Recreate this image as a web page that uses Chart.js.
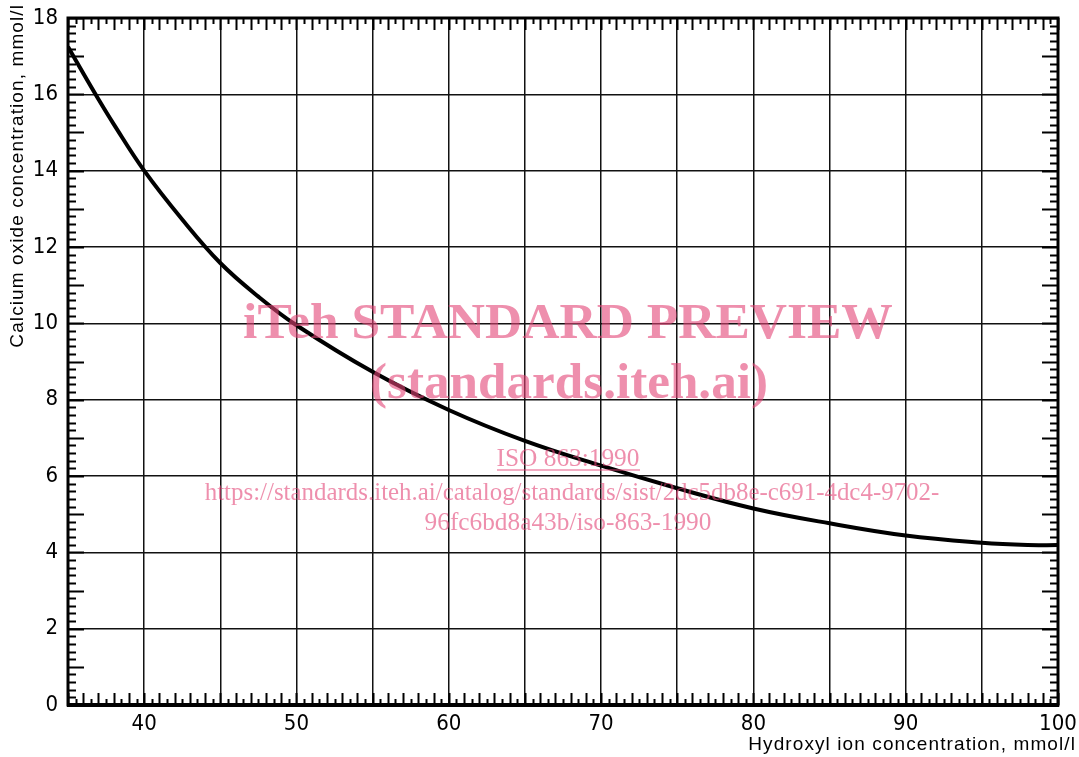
<!DOCTYPE html>
<html>
<head>
<meta charset="utf-8">
<script src="https://cdn.jsdelivr.net/npm/chart.js@4.4.1/dist/chart.umd.min.js"></script>
<style>
  html, body { margin: 0; padding: 0; background: #fff; }
  #wrap { width: 1079px; height: 757px; }
</style>
</head>
<body>
<div id="wrap"><canvas id="grafico" width="1079" height="757"></canvas></div>
<script>
// ======= DADOS =======
const hidroxila = [35, 36, 37, 38, 40, 42.5, 45, 47.5, 50, 55, 60, 65, 70, 75, 80, 85, 90, 95, 98, 100];
const oxidoCalcio = [17.25, 16.55, 15.87, 15.22, 14.0, 12.72, 11.58, 10.7, 9.95, 8.73, 7.73, 6.92, 6.27, 5.68, 5.15, 4.76, 4.44, 4.25, 4.19, 4.19];

const rotulosX = [40, 50, 60, 70, 80, 90, 100];
const rotulosY = [0, 2, 4, 6, 8, 10, 12, 14, 16, 18];

const tituloX = "Hydroxyl ion concentration, mmol/l";
const tituloY = "Calcium oxide concentration, mmol/l";

const marcaDagua = [
  "iTeh STANDARD PREVIEW",
  "(standards.iteh.ai)",
  "ISO 863:1990",
  "https://standards.iteh.ai/catalog/standards/sist/2dc5db8e-c691-4dc4-9702-",
  "96fc6bd8a43b/iso-863-1990",
];

const fonteNum = "'DejaVu Sans Condensed', 'Liberation Sans Narrow', 'DejaVu Sans', sans-serif";

// ======= PLUGIN: escalas menores, moldura, títulos, marca d'água =======
function textoAjustado(ctx, texto, cx, cy, largura, peso, familia) {
  ctx.font = `${peso} 40px ${familia}`;
  const w = ctx.measureText(texto).width;
  const tam = 40 * largura / w;
  ctx.font = `${peso} ${tam}px ${familia}`;
  ctx.fillText(texto, cx, cy);
  return tam;
}

const moldura = {
  id: "moldura",
  afterDraw(chart) {
    const { ctx, chartArea: a, scales } = chart;
    const sx = scales.x, sy = scales.y;
    ctx.save();
    ctx.strokeStyle = "#000";
    ctx.lineWidth = 2;

    // marcas no eixo x: a cada 0,5, maiores nos inteiros
    for (let i = sx.min * 2; i <= sx.max * 2; i++) {
      const v = i / 2;
      const px = Math.round(sx.getPixelForValue(v)) + 0.5;
      const len = Number.isInteger(v) ? 12 : 6;
      ctx.beginPath();
      ctx.moveTo(px, a.bottom); ctx.lineTo(px, a.bottom - len);
      ctx.moveTo(px, a.top); ctx.lineTo(px, a.top + len);
      ctx.stroke();
    }
    // marcas no eixo y: a cada 0,2, maiores nos inteiros
    for (let i = sy.min * 5; i <= sy.max * 5; i++) {
      const py = Math.round(sy.getPixelForValue(i / 5)) + 0.5;
      const len = i % 5 === 0 ? 16 : 8;
      ctx.beginPath();
      ctx.moveTo(a.left, py); ctx.lineTo(a.left + len, py);
      ctx.moveTo(a.right, py); ctx.lineTo(a.right - len, py);
      ctx.stroke();
    }

    // moldura
    ctx.lineWidth = 3;
    ctx.strokeRect(a.left, a.top, a.right - a.left, a.bottom - a.top);
    ctx.lineWidth = 4;
    ctx.beginPath();
    ctx.moveTo(a.left - 1, a.bottom); ctx.lineTo(a.right + 1, a.bottom);
    ctx.stroke();

    // títulos dos eixos
    ctx.fillStyle = "#000";
    ctx.font = "19px 'Liberation Sans', Arial, sans-serif";
    ctx.letterSpacing = "1.1px";
    ctx.textAlign = "right";
    ctx.textBaseline = "middle";
    ctx.fillText(tituloX, 1076, 745);
    ctx.save();
    ctx.translate(18, 4);
    ctx.rotate(-Math.PI / 2);
    ctx.fillText(tituloY, 0, 0);
    ctx.restore();
    ctx.letterSpacing = "0px";

    // marca d'água
    ctx.globalAlpha = 0.6;
    ctx.fillStyle = "rgb(227, 68, 118)";
    ctx.strokeStyle = "rgb(227, 68, 118)";
    ctx.textAlign = "center";
    ctx.textBaseline = "alphabetic";
    const serif = "'Liberation Serif', 'Times New Roman', serif";
    textoAjustado(ctx, marcaDagua[0], 568, 338, 650, "bold", serif);
    textoAjustado(ctx, marcaDagua[1], 569, 398, 398, "bold", serif);
    textoAjustado(ctx, marcaDagua[2], 568, 466, 143, "normal", serif);
    ctx.lineWidth = 1.5;
    ctx.beginPath();
    ctx.moveTo(497, 470); ctx.lineTo(640, 470);
    ctx.stroke();
    textoAjustado(ctx, marcaDagua[3], 572, 500, 735, "normal", serif);
    textoAjustado(ctx, marcaDagua[4], 568, 530, 287, "normal", serif);
    ctx.restore();
  },
};

// ======= GRÁFICO =======
const ctxGrafico = document.getElementById("grafico").getContext("2d");

const grafico = new Chart(ctxGrafico, {
  type: "line",
  data: {
    datasets: [
      {
        label: tituloY,
        data: hidroxila.map((x, i) => ({ x, y: oxidoCalcio[i] })),
        borderColor: "#000",
        borderWidth: 4,
        pointRadius: 0,
        fill: false,
        tension: 0.4,
      },
    ],
  },
  options: {
    responsive: false,
    animation: false,
    devicePixelRatio: 1,
    layout: { padding: { top: 18, right: 21, left: 0, bottom: 0 } },
    plugins: { legend: { display: false }, tooltip: { enabled: false } },
    scales: {
      x: {
        type: "linear",
        min: 35,
        max: 100,
        afterFit: (s) => { s.height = 52; s.paddingLeft = 0; s.paddingRight = 0; },
        ticks: {
          stepSize: 5,
          autoSkip: false,
          maxRotation: 0,
          padding: 6,
          color: "#000",
          font: { family: fonteNum, size: 22 },
          callback: (v) => (rotulosX.includes(v) ? String(v) : ""),
        },
        grid: { color: "#111", lineWidth: 1.5, drawTicks: false },
        border: { display: false },
      },
      y: {
        min: 0,
        max: 18,
        afterFit: (s) => { s.width = 68; s.paddingTop = 0; s.paddingBottom = 0; },
        ticks: {
          stepSize: 2,
          padding: 10,
          color: "#000",
          font: { family: fonteNum, size: 22 },
          callback: (v) => (rotulosY.includes(v) ? String(v) : ""),
        },
        grid: { color: "#111", lineWidth: 1.5, drawTicks: false },
        border: { display: false },
      },
    },
  },
  plugins: [moldura],
});
</script>
</body>
</html>
